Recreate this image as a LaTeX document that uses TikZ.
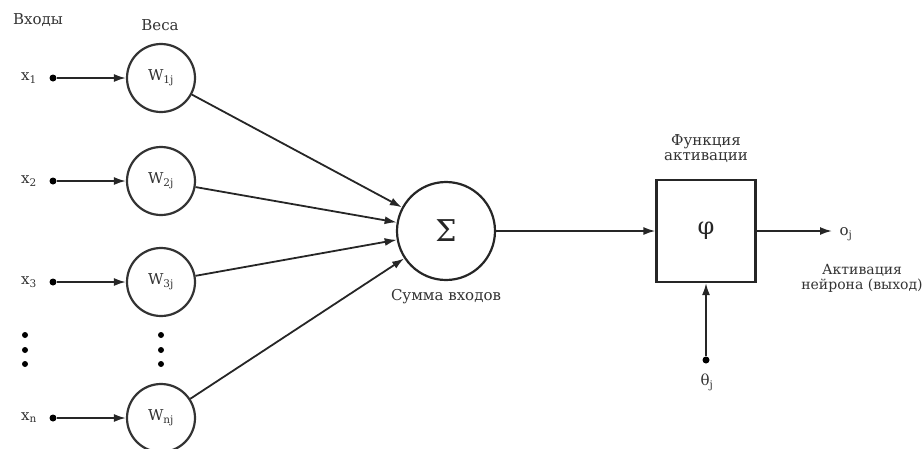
\documentclass[tikz,border=0pt]{standalone}
\usepackage{fontspec}
\setmainfont{DejaVu Serif}
\usetikzlibrary{arrows.meta}
\begin{document}
\begin{tikzpicture}[x=1pt,y=-1pt,
  lbl/.style={font=\fontsize{15}{17}\selectfont, text=black!80, inner sep=1pt},
  wnode/.style={circle, draw=black!80, line width=2.2pt, minimum size=68pt, inner sep=0pt, font=\fontsize{15}{17}\selectfont, text=black!80},
  dotp/.style={circle, fill=black, inner sep=0pt, minimum size=7pt},
  arr/.style={-{Latex[length=12pt,width=8pt]}, line width=1.8pt, draw=black!85},
  ln/.style={line width=1.8pt, draw=black!85}]
\useasboundingbox (0,0) rectangle (924,448);
% headers
\node[lbl] (hin) at (38,20) {Входы};
\node[lbl] (hw) at (160,25) {Веса};
% inputs
\foreach \i/\y/\s in {1/78/1,2/181/2,3/282/3,n/418/n}{
  \node[lbl] (x\i) at (29,\y) {x\textsubscript{\s}};
  \node[dotp] (d\i) at (53,\y) {};
  \node[wnode] (w\i) at (161,\y) {W\textsubscript{\s j}};
  \draw[arr] (d\i) -- (w\i);
}
% vertical dots
\foreach \y [count=\k] in {335,350,364}{
  \node[dotp, minimum size=6pt] (va\k) at (25,\y) {};
  \node[dotp, minimum size=6pt] (vb\k) at (161,\y) {};
}
% sum
\node[circle, draw=black!85, line width=2.2pt, minimum size=98pt, inner sep=0pt, font=\fontsize{30}{34}\selectfont, text=black!85] (sum) at (446,231) {Σ};
\foreach \i in {1,2,3,n}{ \draw[arr] (w\i) -- (sum); }
\node[lbl] (sl) at (446,297) {Сумма входов};
% activation box
\node[draw=black!85, line width=2.2pt, minimum width=99pt, minimum height=102pt, inner sep=0pt, font=\fontsize{24}{26}\selectfont, text=black!85] (phi) at (706,231) {φ};
\node[lbl, align=center] (fl) at (706,149) {Функция\\[-2pt]активации};
\draw[arr] (sum) -- (phi);
\coordinate (oend) at (832,231);
\draw[arr] (phi) -- (oend);
\node[lbl] (oj) at (846,234) {o\textsubscript{j}};
\node[lbl, align=center, font=\fontsize{14}{16}\selectfont] (al) at (862,278) {Активация\\[-1pt]нейрона (выход)};
% theta
\node[dotp] (td) at (706,360) {};
\draw[arr] (td) -- (phi);
\node[lbl] (th) at (707,382) {θ\textsubscript{j}};
\end{tikzpicture}
\end{document}
